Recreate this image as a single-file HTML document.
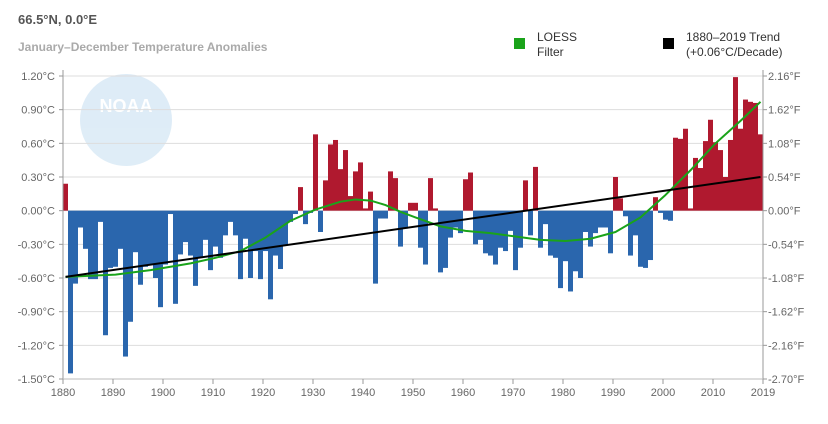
<!DOCTYPE html>
<html><head><meta charset="utf-8"><style>
body{margin:0;background:#fff;font-family:"Liberation Sans",sans-serif}
svg{display:block}
</style></head><body>
<svg id="chart" width="828" height="424">
<g opacity="0.16">
<circle cx="126" cy="120" r="46" fill="#3b8fd0"/>
<text x="126" y="112" text-anchor="middle" font-size="18" font-weight="bold" fill="#fff" font-family="Liberation Sans, sans-serif">NOAA</text>
</g>
<text x="18" y="24" font-size="13" font-weight="bold" fill="#555">66.5°N, 0.0°E</text>
<text x="18" y="51" font-size="12" font-weight="bold" fill="#aaa">January–December Temperature Anomalies</text>
<g>
<rect x="514" y="38" width="11" height="11" fill="#1aa31a"/>
<text x="537" y="41" font-size="12" fill="#333">LOESS</text>
<text x="537" y="56" font-size="12" fill="#333">Filter</text>
</g>
<g>
<rect x="663" y="38" width="11" height="11" fill="#000"/>
<text x="686" y="41" font-size="12" fill="#333">1880–2019 Trend</text>
<text x="686" y="56" font-size="12" fill="#333">(+0.06°C/Decade)</text>
</g>
<g id="grid"></g><g id="bars"></g><g id="lines"></g><g id="axes"></g>
</svg>
<script>
const years=[];for(let y=1880;y<=2019;y++)years.push(y);
const anomalies=[0.24,-1.45,-0.65,-0.15,-0.34,-0.61,-0.61,-0.10,-1.11,-0.51,-0.50,-0.34,-1.30,-0.99,-0.37,-0.66,-0.50,-0.48,-0.60,-0.86,
-0.48,-0.03,-0.83,-0.39,-0.28,-0.40,-0.67,-0.42,-0.26,-0.53,-0.32,-0.42,-0.22,-0.10,-0.22,-0.61,-0.25,-0.60,-0.36,-0.61,
-0.36,-0.79,-0.40,-0.52,-0.31,-0.10,-0.03,0.21,-0.12,-0.02,0.68,-0.19,0.27,0.59,0.63,0.37,0.54,0.13,0.35,0.43,
0.02,0.17,-0.65,-0.07,-0.07,0.35,0.29,-0.32,-0.16,0.07,0.07,-0.33,-0.48,0.29,0.02,-0.55,-0.51,-0.24,-0.15,-0.20,
0.28,0.34,-0.30,-0.26,-0.38,-0.40,-0.48,-0.33,-0.36,-0.18,-0.53,-0.33,0.27,-0.22,0.39,-0.33,-0.12,-0.40,-0.42,-0.69,
-0.45,-0.72,-0.54,-0.60,-0.19,-0.32,-0.20,-0.15,-0.15,-0.38,0.30,0.11,-0.05,-0.40,-0.22,-0.50,-0.51,-0.44,0.12,-0.02,
-0.08,-0.09,0.65,0.64,0.73,0.02,0.47,0.38,0.62,0.81,0.61,0.54,0.30,0.63,1.19,0.73,0.99,0.97,0.96,0.68];
const loessYears=[1880,1885,1890,1897,1905,1910,1915,1920,1925,1930,1935,1938,1941,1944,1947,1950,1955,1960,1965,1970,1975,1980,1985,1990,1995,2000,2005,2010,2015,2019];
const loessValues=[-0.59,-0.58,-0.57,-0.53,-0.47,-0.42,-0.36,-0.24,-0.09,0.01,0.08,0.10,0.09,0.05,-0.01,-0.06,-0.14,-0.18,-0.20,-0.23,-0.26,-0.27,-0.25,-0.19,-0.06,0.14,0.36,0.60,0.80,0.97];
const trendYears=[1880,2019];
const trendValues=[-0.59,0.30];
const yTicksC=[1.2,0.9,0.6,0.3,0,-0.3,-0.6,-0.9,-1.2,-1.5];
const yTicksF=["2.16°F","1.62°F","1.08°F","0.54°F","0.00°F","-0.54°F","-1.08°F","-1.62°F","-2.16°F","-2.70°F"];
const xTicks=[1880,1890,1900,1910,1920,1930,1940,1950,1960,1970,1980,1990,2000,2010,2019];

const NS="http://www.w3.org/2000/svg";
const X0=63,X1=763,Y0=76,Y1=379;
const xs=y=>X0+(y-1880)*(X1-X0)/140;
const xc=y=>xs(y)+2.5;
const ys=v=>Y0+(1.2-v)*(Y1-Y0)/2.7;
function mk(tag,attrs,parent){const e=document.createElementNS(NS,tag);for(const k in attrs)e.setAttribute(k,attrs[k]);parent.appendChild(e);return e;}
const grid=document.getElementById('grid'),bars=document.getElementById('bars'),lines=document.getElementById('lines'),axes=document.getElementById('axes');
yTicksC.forEach((v,i)=>{
  const g=mk('line',{x1:X0,x2:X1,y1:ys(v),y2:ys(v),stroke:'#ddd','stroke-width':1},grid);
  
  
  const t=mk('text',{x:55,y:ys(v)+4,'text-anchor':'end','font-size':11,fill:'#666'},axes);
  t.textContent=v.toFixed(2)+'°C';
  
  
  const t2=mk('text',{x:768,y:ys(v)+4,'font-size':11,fill:'#666'},axes);
  t2.textContent=yTicksF[i];
  
  
  mk('line',{x1:X0-4,x2:X0,y1:ys(v),y2:ys(v),stroke:'#999'},axes);
  mk('line',{x1:X1,x2:X1+4,y1:ys(v),y2:ys(v),stroke:'#999'},axes);
});
years.forEach((yr,i)=>{
  const v=anomalies[i];
  const top=Math.min(ys(v),ys(0)),h=Math.abs(ys(v)-ys(0));
  const r=mk('rect',{x:xs(yr),y:top,width:5,height:Math.max(h,0.5),fill:v>=0?'#b0192f':'#2a66ad'},bars);
  
  
});
let d='';loessYears.forEach((yr,i)=>{d+=(i?'L':'M')+xc(yr)+','+ys(loessValues[i]);});
const lp=mk('path',{d:d,fill:'none',stroke:'#1aa31a','stroke-width':2,'stroke-linejoin':'round'},lines);


const tl=mk('line',{x1:xc(trendYears[0]),y1:ys(trendValues[0]),x2:xc(trendYears[1]),y2:ys(trendValues[1]),stroke:'#000','stroke-width':2},lines);


mk('line',{x1:X0,x2:X0,y1:Y0-6,y2:Y1+4,stroke:'#999'},axes);
mk('line',{x1:X1,x2:X1,y1:Y0-6,y2:Y1+4,stroke:'#999'},axes);
mk('line',{x1:X0,x2:X1,y1:Y1,y2:Y1,stroke:'#bbb'},axes);
xTicks.forEach(yr=>{
  const x=yr===2019?X1:xs(yr);
  mk('line',{x1:x,x2:x,y1:Y1,y2:Y1+5,stroke:'#999'},axes);
  const t=mk('text',{x:x,y:Y1+17,'text-anchor':'middle','font-size':11,fill:'#666'},axes);
  t.textContent=yr;
  
  
});
</script>
</body></html>
